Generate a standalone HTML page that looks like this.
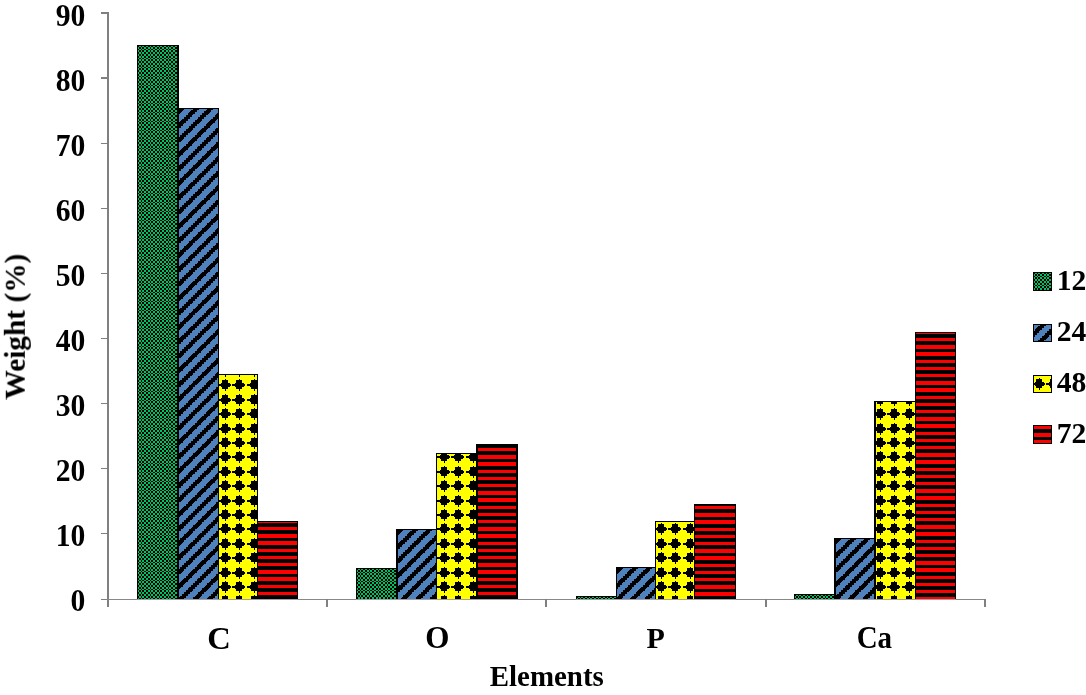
<!DOCTYPE html>
<html><head><meta charset="utf-8"><style>
html,body{margin:0;padding:0;background:#fff;}
body{width:1086px;height:695px;overflow:hidden;position:relative;}
svg{position:absolute;left:0;top:0;}
text{font-family:"Liberation Serif",serif;font-weight:bold;fill:#000;}
.tx{filter:grayscale(1);}
</style></head><body>
<svg width="1086" height="695" viewBox="0 0 1086 695">
<defs>
<pattern id="pg" patternUnits="userSpaceOnUse" width="18" height="18"><rect width="18" height="18" fill="#00c25c"/><g fill="#000"><rect x="11" y="0" width="2" height="2"/><rect x="14" y="0" width="2" height="2"/><rect x="7" y="0" width="2" height="2"/><rect x="4" y="0" width="1" height="2"/><rect x="0" y="0" width="2" height="2"/><rect x="13" y="2" width="1" height="2"/><rect x="2" y="2" width="2" height="2"/><rect x="5" y="2" width="2" height="2"/><rect x="16" y="2" width="2" height="2"/><rect x="9" y="2" width="2" height="2"/><rect x="11" y="4" width="2" height="1"/><rect x="14" y="4" width="2" height="1"/><rect x="7" y="4" width="2" height="1"/><rect x="4" y="4" width="1" height="1"/><rect x="0" y="4" width="2" height="1"/><rect x="13" y="5" width="1" height="2"/><rect x="2" y="5" width="2" height="2"/><rect x="5" y="5" width="2" height="2"/><rect x="16" y="5" width="2" height="2"/><rect x="9" y="5" width="2" height="2"/><rect x="11" y="7" width="2" height="2"/><rect x="14" y="7" width="2" height="2"/><rect x="7" y="7" width="2" height="2"/><rect x="4" y="7" width="1" height="2"/><rect x="0" y="7" width="2" height="2"/><rect x="13" y="9" width="1" height="2"/><rect x="2" y="9" width="2" height="2"/><rect x="5" y="9" width="2" height="2"/><rect x="16" y="9" width="2" height="2"/><rect x="9" y="9" width="2" height="2"/><rect x="11" y="11" width="2" height="2"/><rect x="14" y="11" width="2" height="2"/><rect x="7" y="11" width="2" height="2"/><rect x="4" y="11" width="1" height="2"/><rect x="0" y="11" width="2" height="2"/><rect x="13" y="13" width="1" height="1"/><rect x="2" y="13" width="2" height="1"/><rect x="5" y="13" width="2" height="1"/><rect x="16" y="13" width="2" height="1"/><rect x="9" y="13" width="2" height="1"/><rect x="11" y="14" width="2" height="2"/><rect x="14" y="14" width="2" height="2"/><rect x="7" y="14" width="2" height="2"/><rect x="4" y="14" width="1" height="2"/><rect x="0" y="14" width="2" height="2"/><rect x="13" y="16" width="1" height="2"/><rect x="2" y="16" width="2" height="2"/><rect x="5" y="16" width="2" height="2"/><rect x="16" y="16" width="2" height="2"/><rect x="9" y="16" width="2" height="2"/></g></pattern>
<pattern id="pb" patternUnits="userSpaceOnUse" width="72" height="72"><rect width="72" height="72" fill="#4f81bd"/><g fill="#000"><rect x="2" y="0" width="5" height="1"/><rect x="59" y="0" width="6" height="2"/><rect x="30" y="0" width="6" height="2"/><rect x="45" y="0" width="6" height="2"/><rect x="16" y="0" width="6" height="2"/><rect x="1" y="1" width="6" height="1"/><rect x="43" y="2" width="6" height="1"/><rect x="14" y="2" width="6" height="1"/><rect x="0" y="2" width="6" height="1"/><rect x="57" y="2" width="6" height="1"/><rect x="29" y="2" width="5" height="1"/><rect x="27" y="3" width="7" height="1"/><rect x="42" y="3" width="6" height="1"/><rect x="13" y="3" width="7" height="1"/><rect x="56" y="3" width="7" height="1"/><rect x="0" y="3" width="5" height="1"/><rect x="70" y="3" width="2" height="2"/><rect x="0" y="4" width="4" height="1"/><rect x="56" y="4" width="5" height="1"/><rect x="27" y="4" width="6" height="1"/><rect x="41" y="4" width="6" height="1"/><rect x="12" y="4" width="6" height="1"/><rect x="69" y="5" width="3" height="1"/><rect x="54" y="5" width="7" height="1"/><rect x="25" y="5" width="7" height="1"/><rect x="0" y="5" width="3" height="1"/><rect x="40" y="5" width="7" height="1"/><rect x="11" y="5" width="7" height="1"/><rect x="11" y="6" width="5" height="1"/><rect x="25" y="6" width="6" height="1"/><rect x="0" y="6" width="2" height="1"/><rect x="54" y="6" width="6" height="1"/><rect x="39" y="6" width="6" height="1"/><rect x="68" y="6" width="4" height="1"/><rect x="38" y="7" width="6" height="1"/><rect x="52" y="7" width="6" height="2"/><rect x="23" y="7" width="6" height="2"/><rect x="9" y="7" width="6" height="2"/><rect x="66" y="7" width="6" height="2"/><rect x="38" y="8" width="5" height="1"/><rect x="65" y="9" width="5" height="1"/><rect x="36" y="9" width="6" height="2"/><rect x="7" y="9" width="6" height="2"/><rect x="50" y="9" width="6" height="2"/><rect x="21" y="9" width="6" height="2"/><rect x="64" y="10" width="6" height="1"/><rect x="5" y="11" width="6" height="1"/><rect x="63" y="11" width="6" height="1"/><rect x="20" y="11" width="5" height="1"/><rect x="48" y="11" width="6" height="1"/><rect x="34" y="11" width="6" height="1"/><rect x="61" y="12" width="7" height="1"/><rect x="33" y="12" width="6" height="1"/><rect x="47" y="12" width="7" height="1"/><rect x="18" y="12" width="7" height="1"/><rect x="4" y="12" width="7" height="1"/><rect x="47" y="13" width="5" height="1"/><rect x="61" y="13" width="6" height="1"/><rect x="3" y="13" width="6" height="1"/><rect x="32" y="13" width="6" height="1"/><rect x="18" y="13" width="6" height="1"/><rect x="60" y="14" width="6" height="1"/><rect x="45" y="14" width="7" height="1"/><rect x="2" y="14" width="7" height="1"/><rect x="31" y="14" width="7" height="1"/><rect x="16" y="14" width="7" height="1"/><rect x="59" y="15" width="6" height="1"/><rect x="2" y="15" width="5" height="1"/><rect x="30" y="15" width="6" height="1"/><rect x="45" y="15" width="6" height="1"/><rect x="16" y="15" width="6" height="1"/><rect x="29" y="16" width="6" height="1"/><rect x="43" y="16" width="6" height="2"/><rect x="14" y="16" width="6" height="2"/><rect x="0" y="16" width="6" height="2"/><rect x="57" y="16" width="6" height="2"/><rect x="29" y="17" width="5" height="1"/><rect x="56" y="18" width="5" height="1"/><rect x="70" y="18" width="2" height="2"/><rect x="0" y="18" width="4" height="2"/><rect x="27" y="18" width="6" height="2"/><rect x="41" y="18" width="6" height="2"/><rect x="12" y="18" width="6" height="2"/><rect x="55" y="19" width="6" height="1"/><rect x="11" y="20" width="5" height="1"/><rect x="25" y="20" width="6" height="1"/><rect x="54" y="20" width="6" height="1"/><rect x="39" y="20" width="6" height="1"/><rect x="68" y="20" width="4" height="1"/><rect x="0" y="20" width="2" height="2"/><rect x="24" y="21" width="6" height="1"/><rect x="9" y="21" width="7" height="1"/><rect x="67" y="21" width="5" height="1"/><rect x="52" y="21" width="7" height="1"/><rect x="38" y="21" width="7" height="1"/><rect x="52" y="22" width="6" height="1"/><rect x="23" y="22" width="6" height="1"/><rect x="9" y="22" width="6" height="1"/><rect x="38" y="22" width="5" height="1"/><rect x="66" y="22" width="6" height="1"/><rect x="51" y="23" width="6" height="1"/><rect x="36" y="23" width="7" height="1"/><rect x="65" y="23" width="7" height="1"/><rect x="22" y="23" width="7" height="1"/><rect x="7" y="23" width="7" height="1"/><rect x="36" y="24" width="6" height="1"/><rect x="7" y="24" width="6" height="1"/><rect x="65" y="24" width="5" height="1"/><rect x="50" y="24" width="6" height="1"/><rect x="21" y="24" width="6" height="1"/><rect x="20" y="25" width="6" height="1"/><rect x="5" y="25" width="6" height="2"/><rect x="63" y="25" width="6" height="2"/><rect x="48" y="25" width="6" height="2"/><rect x="34" y="25" width="6" height="2"/><rect x="20" y="26" width="5" height="1"/><rect x="47" y="27" width="5" height="1"/><rect x="61" y="27" width="6" height="2"/><rect x="3" y="27" width="6" height="2"/><rect x="32" y="27" width="6" height="2"/><rect x="18" y="27" width="6" height="2"/><rect x="46" y="28" width="6" height="1"/><rect x="59" y="29" width="6" height="1"/><rect x="2" y="29" width="5" height="1"/><rect x="30" y="29" width="6" height="1"/><rect x="45" y="29" width="6" height="1"/><rect x="16" y="29" width="6" height="1"/><rect x="15" y="30" width="6" height="1"/><rect x="0" y="30" width="7" height="1"/><rect x="43" y="30" width="7" height="1"/><rect x="58" y="30" width="7" height="1"/><rect x="29" y="30" width="7" height="1"/><rect x="43" y="31" width="6" height="1"/><rect x="14" y="31" width="6" height="1"/><rect x="0" y="31" width="6" height="1"/><rect x="57" y="31" width="6" height="1"/><rect x="29" y="31" width="5" height="1"/><rect x="27" y="32" width="7" height="1"/><rect x="42" y="32" width="6" height="1"/><rect x="13" y="32" width="7" height="1"/><rect x="56" y="32" width="7" height="1"/><rect x="0" y="32" width="5" height="1"/><rect x="70" y="32" width="2" height="2"/><rect x="0" y="33" width="4" height="1"/><rect x="56" y="33" width="5" height="1"/><rect x="27" y="33" width="6" height="1"/><rect x="41" y="33" width="6" height="1"/><rect x="12" y="33" width="6" height="1"/><rect x="11" y="34" width="6" height="1"/><rect x="25" y="34" width="6" height="2"/><rect x="0" y="34" width="2" height="2"/><rect x="54" y="34" width="6" height="2"/><rect x="39" y="34" width="6" height="2"/><rect x="68" y="34" width="4" height="2"/><rect x="11" y="35" width="5" height="1"/><rect x="38" y="36" width="5" height="1"/><rect x="52" y="36" width="6" height="2"/><rect x="23" y="36" width="6" height="2"/><rect x="9" y="36" width="6" height="2"/><rect x="66" y="36" width="6" height="2"/><rect x="37" y="37" width="6" height="1"/><rect x="36" y="38" width="6" height="1"/><rect x="7" y="38" width="6" height="1"/><rect x="65" y="38" width="5" height="1"/><rect x="50" y="38" width="6" height="1"/><rect x="21" y="38" width="6" height="1"/><rect x="6" y="39" width="6" height="1"/><rect x="20" y="39" width="7" height="1"/><rect x="63" y="39" width="7" height="1"/><rect x="34" y="39" width="7" height="1"/><rect x="49" y="39" width="7" height="1"/><rect x="5" y="40" width="6" height="1"/><rect x="63" y="40" width="6" height="1"/><rect x="20" y="40" width="5" height="1"/><rect x="48" y="40" width="6" height="1"/><rect x="34" y="40" width="6" height="1"/><rect x="61" y="41" width="7" height="1"/><rect x="33" y="41" width="6" height="1"/><rect x="47" y="41" width="7" height="1"/><rect x="18" y="41" width="7" height="1"/><rect x="4" y="41" width="7" height="1"/><rect x="47" y="42" width="5" height="1"/><rect x="61" y="42" width="6" height="1"/><rect x="3" y="42" width="6" height="1"/><rect x="32" y="42" width="6" height="1"/><rect x="18" y="42" width="6" height="1"/><rect x="2" y="43" width="6" height="1"/><rect x="59" y="43" width="6" height="2"/><rect x="30" y="43" width="6" height="2"/><rect x="45" y="43" width="6" height="2"/><rect x="16" y="43" width="6" height="2"/><rect x="2" y="44" width="5" height="1"/><rect x="29" y="45" width="5" height="1"/><rect x="43" y="45" width="6" height="2"/><rect x="14" y="45" width="6" height="2"/><rect x="0" y="45" width="6" height="2"/><rect x="57" y="45" width="6" height="2"/><rect x="28" y="46" width="6" height="1"/><rect x="70" y="47" width="2" height="1"/><rect x="0" y="47" width="4" height="1"/><rect x="56" y="47" width="5" height="1"/><rect x="27" y="47" width="6" height="1"/><rect x="41" y="47" width="6" height="1"/><rect x="12" y="47" width="6" height="1"/><rect x="69" y="48" width="3" height="1"/><rect x="54" y="48" width="7" height="1"/><rect x="25" y="48" width="7" height="1"/><rect x="0" y="48" width="3" height="1"/><rect x="40" y="48" width="7" height="1"/><rect x="11" y="48" width="7" height="1"/><rect x="11" y="49" width="5" height="1"/><rect x="25" y="49" width="6" height="1"/><rect x="54" y="49" width="6" height="1"/><rect x="39" y="49" width="6" height="1"/><rect x="68" y="49" width="4" height="1"/><rect x="0" y="49" width="2" height="2"/><rect x="24" y="50" width="6" height="1"/><rect x="9" y="50" width="7" height="1"/><rect x="67" y="50" width="5" height="1"/><rect x="52" y="50" width="7" height="1"/><rect x="38" y="50" width="7" height="1"/><rect x="52" y="51" width="6" height="1"/><rect x="23" y="51" width="6" height="1"/><rect x="9" y="51" width="6" height="1"/><rect x="38" y="51" width="5" height="1"/><rect x="66" y="51" width="6" height="1"/><rect x="65" y="52" width="6" height="1"/><rect x="36" y="52" width="6" height="2"/><rect x="7" y="52" width="6" height="2"/><rect x="50" y="52" width="6" height="2"/><rect x="21" y="52" width="6" height="2"/><rect x="65" y="53" width="5" height="1"/><rect x="20" y="54" width="5" height="1"/><rect x="5" y="54" width="6" height="2"/><rect x="63" y="54" width="6" height="2"/><rect x="48" y="54" width="6" height="2"/><rect x="34" y="54" width="6" height="2"/><rect x="19" y="55" width="6" height="1"/><rect x="47" y="56" width="5" height="1"/><rect x="61" y="56" width="6" height="1"/><rect x="3" y="56" width="6" height="1"/><rect x="32" y="56" width="6" height="1"/><rect x="18" y="56" width="6" height="1"/><rect x="60" y="57" width="6" height="1"/><rect x="45" y="57" width="7" height="1"/><rect x="2" y="57" width="7" height="1"/><rect x="31" y="57" width="7" height="1"/><rect x="16" y="57" width="7" height="1"/><rect x="59" y="58" width="6" height="1"/><rect x="2" y="58" width="5" height="1"/><rect x="30" y="58" width="6" height="1"/><rect x="45" y="58" width="6" height="1"/><rect x="16" y="58" width="6" height="1"/><rect x="15" y="59" width="6" height="1"/><rect x="0" y="59" width="7" height="1"/><rect x="43" y="59" width="7" height="1"/><rect x="58" y="59" width="7" height="1"/><rect x="29" y="59" width="7" height="1"/><rect x="43" y="60" width="6" height="1"/><rect x="14" y="60" width="6" height="1"/><rect x="0" y="60" width="6" height="1"/><rect x="57" y="60" width="6" height="1"/><rect x="29" y="60" width="5" height="1"/><rect x="56" y="61" width="6" height="1"/><rect x="70" y="61" width="2" height="2"/><rect x="0" y="61" width="4" height="2"/><rect x="27" y="61" width="6" height="2"/><rect x="41" y="61" width="6" height="2"/><rect x="12" y="61" width="6" height="2"/><rect x="56" y="62" width="5" height="1"/><rect x="11" y="63" width="5" height="1"/><rect x="25" y="63" width="6" height="2"/><rect x="0" y="63" width="2" height="2"/><rect x="54" y="63" width="6" height="2"/><rect x="39" y="63" width="6" height="2"/><rect x="68" y="63" width="4" height="2"/><rect x="10" y="64" width="6" height="1"/><rect x="52" y="65" width="6" height="1"/><rect x="23" y="65" width="6" height="1"/><rect x="9" y="65" width="6" height="1"/><rect x="38" y="65" width="5" height="1"/><rect x="66" y="65" width="6" height="1"/><rect x="51" y="66" width="6" height="1"/><rect x="36" y="66" width="7" height="1"/><rect x="65" y="66" width="7" height="1"/><rect x="22" y="66" width="7" height="1"/><rect x="7" y="66" width="7" height="1"/><rect x="36" y="67" width="6" height="1"/><rect x="7" y="67" width="6" height="1"/><rect x="65" y="67" width="5" height="1"/><rect x="50" y="67" width="6" height="1"/><rect x="21" y="67" width="6" height="1"/><rect x="6" y="68" width="6" height="1"/><rect x="20" y="68" width="7" height="1"/><rect x="63" y="68" width="7" height="1"/><rect x="34" y="68" width="7" height="1"/><rect x="49" y="68" width="7" height="1"/><rect x="5" y="69" width="6" height="1"/><rect x="63" y="69" width="6" height="1"/><rect x="20" y="69" width="5" height="1"/><rect x="48" y="69" width="6" height="1"/><rect x="34" y="69" width="6" height="1"/><rect x="47" y="70" width="6" height="1"/><rect x="61" y="70" width="6" height="2"/><rect x="3" y="70" width="6" height="2"/><rect x="32" y="70" width="6" height="2"/><rect x="18" y="70" width="6" height="2"/><rect x="47" y="71" width="5" height="1"/></g></pattern>
<pattern id="pb2" patternUnits="userSpaceOnUse" width="72" height="72"><rect width="72" height="72" fill="#4f81bd"/><g fill="#000"><rect x="65" y="0" width="5" height="1"/><rect x="36" y="0" width="6" height="2"/><rect x="7" y="0" width="6" height="2"/><rect x="50" y="0" width="6" height="2"/><rect x="21" y="0" width="6" height="2"/><rect x="64" y="1" width="6" height="1"/><rect x="5" y="2" width="6" height="1"/><rect x="63" y="2" width="6" height="1"/><rect x="20" y="2" width="5" height="1"/><rect x="48" y="2" width="6" height="1"/><rect x="34" y="2" width="6" height="1"/><rect x="61" y="3" width="7" height="1"/><rect x="33" y="3" width="6" height="1"/><rect x="47" y="3" width="7" height="1"/><rect x="18" y="3" width="7" height="1"/><rect x="4" y="3" width="7" height="1"/><rect x="47" y="4" width="5" height="1"/><rect x="61" y="4" width="6" height="1"/><rect x="3" y="4" width="6" height="1"/><rect x="32" y="4" width="6" height="1"/><rect x="18" y="4" width="6" height="1"/><rect x="60" y="5" width="6" height="1"/><rect x="45" y="5" width="7" height="1"/><rect x="2" y="5" width="7" height="1"/><rect x="31" y="5" width="7" height="1"/><rect x="16" y="5" width="7" height="1"/><rect x="59" y="6" width="6" height="1"/><rect x="2" y="6" width="5" height="1"/><rect x="30" y="6" width="6" height="1"/><rect x="45" y="6" width="6" height="1"/><rect x="16" y="6" width="6" height="1"/><rect x="29" y="7" width="6" height="1"/><rect x="43" y="7" width="6" height="2"/><rect x="14" y="7" width="6" height="2"/><rect x="0" y="7" width="6" height="2"/><rect x="57" y="7" width="6" height="2"/><rect x="29" y="8" width="5" height="1"/><rect x="56" y="9" width="5" height="1"/><rect x="70" y="9" width="2" height="2"/><rect x="0" y="9" width="4" height="2"/><rect x="27" y="9" width="6" height="2"/><rect x="41" y="9" width="6" height="2"/><rect x="12" y="9" width="6" height="2"/><rect x="55" y="10" width="6" height="1"/><rect x="11" y="11" width="5" height="1"/><rect x="25" y="11" width="6" height="1"/><rect x="54" y="11" width="6" height="1"/><rect x="39" y="11" width="6" height="1"/><rect x="68" y="11" width="4" height="1"/><rect x="0" y="11" width="2" height="2"/><rect x="24" y="12" width="6" height="1"/><rect x="9" y="12" width="7" height="1"/><rect x="67" y="12" width="5" height="1"/><rect x="52" y="12" width="7" height="1"/><rect x="38" y="12" width="7" height="1"/><rect x="52" y="13" width="6" height="1"/><rect x="23" y="13" width="6" height="1"/><rect x="9" y="13" width="6" height="1"/><rect x="38" y="13" width="5" height="1"/><rect x="66" y="13" width="6" height="1"/><rect x="51" y="14" width="6" height="1"/><rect x="36" y="14" width="7" height="1"/><rect x="65" y="14" width="7" height="1"/><rect x="22" y="14" width="7" height="1"/><rect x="7" y="14" width="7" height="1"/><rect x="36" y="15" width="6" height="1"/><rect x="7" y="15" width="6" height="1"/><rect x="65" y="15" width="5" height="1"/><rect x="50" y="15" width="6" height="1"/><rect x="21" y="15" width="6" height="1"/><rect x="20" y="16" width="6" height="1"/><rect x="5" y="16" width="6" height="2"/><rect x="63" y="16" width="6" height="2"/><rect x="48" y="16" width="6" height="2"/><rect x="34" y="16" width="6" height="2"/><rect x="20" y="17" width="5" height="1"/><rect x="47" y="18" width="5" height="1"/><rect x="61" y="18" width="6" height="2"/><rect x="3" y="18" width="6" height="2"/><rect x="32" y="18" width="6" height="2"/><rect x="18" y="18" width="6" height="2"/><rect x="46" y="19" width="6" height="1"/><rect x="59" y="20" width="6" height="1"/><rect x="2" y="20" width="5" height="1"/><rect x="30" y="20" width="6" height="1"/><rect x="45" y="20" width="6" height="1"/><rect x="16" y="20" width="6" height="1"/><rect x="15" y="21" width="6" height="1"/><rect x="0" y="21" width="7" height="1"/><rect x="43" y="21" width="7" height="1"/><rect x="58" y="21" width="7" height="1"/><rect x="29" y="21" width="7" height="1"/><rect x="43" y="22" width="6" height="1"/><rect x="14" y="22" width="6" height="1"/><rect x="0" y="22" width="6" height="1"/><rect x="57" y="22" width="6" height="1"/><rect x="29" y="22" width="5" height="1"/><rect x="27" y="23" width="7" height="1"/><rect x="42" y="23" width="6" height="1"/><rect x="13" y="23" width="7" height="1"/><rect x="56" y="23" width="7" height="1"/><rect x="0" y="23" width="5" height="1"/><rect x="70" y="23" width="2" height="2"/><rect x="0" y="24" width="4" height="1"/><rect x="56" y="24" width="5" height="1"/><rect x="27" y="24" width="6" height="1"/><rect x="41" y="24" width="6" height="1"/><rect x="12" y="24" width="6" height="1"/><rect x="11" y="25" width="6" height="1"/><rect x="25" y="25" width="6" height="2"/><rect x="0" y="25" width="2" height="2"/><rect x="54" y="25" width="6" height="2"/><rect x="39" y="25" width="6" height="2"/><rect x="68" y="25" width="4" height="2"/><rect x="11" y="26" width="5" height="1"/><rect x="38" y="27" width="5" height="1"/><rect x="52" y="27" width="6" height="2"/><rect x="23" y="27" width="6" height="2"/><rect x="9" y="27" width="6" height="2"/><rect x="66" y="27" width="6" height="2"/><rect x="37" y="28" width="6" height="1"/><rect x="36" y="29" width="6" height="1"/><rect x="7" y="29" width="6" height="1"/><rect x="65" y="29" width="5" height="1"/><rect x="50" y="29" width="6" height="1"/><rect x="21" y="29" width="6" height="1"/><rect x="6" y="30" width="6" height="1"/><rect x="20" y="30" width="7" height="1"/><rect x="63" y="30" width="7" height="1"/><rect x="34" y="30" width="7" height="1"/><rect x="49" y="30" width="7" height="1"/><rect x="5" y="31" width="6" height="1"/><rect x="63" y="31" width="6" height="1"/><rect x="20" y="31" width="5" height="1"/><rect x="48" y="31" width="6" height="1"/><rect x="34" y="31" width="6" height="1"/><rect x="61" y="32" width="7" height="1"/><rect x="33" y="32" width="6" height="1"/><rect x="47" y="32" width="7" height="1"/><rect x="18" y="32" width="7" height="1"/><rect x="4" y="32" width="7" height="1"/><rect x="47" y="33" width="5" height="1"/><rect x="61" y="33" width="6" height="1"/><rect x="3" y="33" width="6" height="1"/><rect x="32" y="33" width="6" height="1"/><rect x="18" y="33" width="6" height="1"/><rect x="2" y="34" width="6" height="1"/><rect x="59" y="34" width="6" height="2"/><rect x="30" y="34" width="6" height="2"/><rect x="45" y="34" width="6" height="2"/><rect x="16" y="34" width="6" height="2"/><rect x="2" y="35" width="5" height="1"/><rect x="29" y="36" width="5" height="1"/><rect x="43" y="36" width="6" height="2"/><rect x="14" y="36" width="6" height="2"/><rect x="0" y="36" width="6" height="2"/><rect x="57" y="36" width="6" height="2"/><rect x="28" y="37" width="6" height="1"/><rect x="70" y="38" width="2" height="1"/><rect x="0" y="38" width="4" height="1"/><rect x="56" y="38" width="5" height="1"/><rect x="27" y="38" width="6" height="1"/><rect x="41" y="38" width="6" height="1"/><rect x="12" y="38" width="6" height="1"/><rect x="69" y="39" width="3" height="1"/><rect x="54" y="39" width="7" height="1"/><rect x="25" y="39" width="7" height="1"/><rect x="0" y="39" width="3" height="1"/><rect x="40" y="39" width="7" height="1"/><rect x="11" y="39" width="7" height="1"/><rect x="11" y="40" width="5" height="1"/><rect x="25" y="40" width="6" height="1"/><rect x="54" y="40" width="6" height="1"/><rect x="39" y="40" width="6" height="1"/><rect x="68" y="40" width="4" height="1"/><rect x="0" y="40" width="2" height="2"/><rect x="24" y="41" width="6" height="1"/><rect x="9" y="41" width="7" height="1"/><rect x="67" y="41" width="5" height="1"/><rect x="52" y="41" width="7" height="1"/><rect x="38" y="41" width="7" height="1"/><rect x="52" y="42" width="6" height="1"/><rect x="23" y="42" width="6" height="1"/><rect x="9" y="42" width="6" height="1"/><rect x="38" y="42" width="5" height="1"/><rect x="66" y="42" width="6" height="1"/><rect x="65" y="43" width="6" height="1"/><rect x="36" y="43" width="6" height="2"/><rect x="7" y="43" width="6" height="2"/><rect x="50" y="43" width="6" height="2"/><rect x="21" y="43" width="6" height="2"/><rect x="65" y="44" width="5" height="1"/><rect x="20" y="45" width="5" height="1"/><rect x="5" y="45" width="6" height="2"/><rect x="63" y="45" width="6" height="2"/><rect x="48" y="45" width="6" height="2"/><rect x="34" y="45" width="6" height="2"/><rect x="19" y="46" width="6" height="1"/><rect x="47" y="47" width="5" height="1"/><rect x="61" y="47" width="6" height="1"/><rect x="3" y="47" width="6" height="1"/><rect x="32" y="47" width="6" height="1"/><rect x="18" y="47" width="6" height="1"/><rect x="60" y="48" width="6" height="1"/><rect x="45" y="48" width="7" height="1"/><rect x="2" y="48" width="7" height="1"/><rect x="31" y="48" width="7" height="1"/><rect x="16" y="48" width="7" height="1"/><rect x="59" y="49" width="6" height="1"/><rect x="2" y="49" width="5" height="1"/><rect x="30" y="49" width="6" height="1"/><rect x="45" y="49" width="6" height="1"/><rect x="16" y="49" width="6" height="1"/><rect x="15" y="50" width="6" height="1"/><rect x="0" y="50" width="7" height="1"/><rect x="43" y="50" width="7" height="1"/><rect x="58" y="50" width="7" height="1"/><rect x="29" y="50" width="7" height="1"/><rect x="43" y="51" width="6" height="1"/><rect x="14" y="51" width="6" height="1"/><rect x="0" y="51" width="6" height="1"/><rect x="57" y="51" width="6" height="1"/><rect x="29" y="51" width="5" height="1"/><rect x="56" y="52" width="6" height="1"/><rect x="70" y="52" width="2" height="2"/><rect x="0" y="52" width="4" height="2"/><rect x="27" y="52" width="6" height="2"/><rect x="41" y="52" width="6" height="2"/><rect x="12" y="52" width="6" height="2"/><rect x="56" y="53" width="5" height="1"/><rect x="11" y="54" width="5" height="1"/><rect x="25" y="54" width="6" height="2"/><rect x="0" y="54" width="2" height="2"/><rect x="54" y="54" width="6" height="2"/><rect x="39" y="54" width="6" height="2"/><rect x="68" y="54" width="4" height="2"/><rect x="10" y="55" width="6" height="1"/><rect x="52" y="56" width="6" height="1"/><rect x="23" y="56" width="6" height="1"/><rect x="9" y="56" width="6" height="1"/><rect x="38" y="56" width="5" height="1"/><rect x="66" y="56" width="6" height="1"/><rect x="51" y="57" width="6" height="1"/><rect x="36" y="57" width="7" height="1"/><rect x="65" y="57" width="7" height="1"/><rect x="22" y="57" width="7" height="1"/><rect x="7" y="57" width="7" height="1"/><rect x="36" y="58" width="6" height="1"/><rect x="7" y="58" width="6" height="1"/><rect x="65" y="58" width="5" height="1"/><rect x="50" y="58" width="6" height="1"/><rect x="21" y="58" width="6" height="1"/><rect x="6" y="59" width="6" height="1"/><rect x="20" y="59" width="7" height="1"/><rect x="63" y="59" width="7" height="1"/><rect x="34" y="59" width="7" height="1"/><rect x="49" y="59" width="7" height="1"/><rect x="5" y="60" width="6" height="1"/><rect x="63" y="60" width="6" height="1"/><rect x="20" y="60" width="5" height="1"/><rect x="48" y="60" width="6" height="1"/><rect x="34" y="60" width="6" height="1"/><rect x="47" y="61" width="6" height="1"/><rect x="61" y="61" width="6" height="2"/><rect x="3" y="61" width="6" height="2"/><rect x="32" y="61" width="6" height="2"/><rect x="18" y="61" width="6" height="2"/><rect x="47" y="62" width="5" height="1"/><rect x="2" y="63" width="5" height="1"/><rect x="59" y="63" width="6" height="2"/><rect x="30" y="63" width="6" height="2"/><rect x="45" y="63" width="6" height="2"/><rect x="16" y="63" width="6" height="2"/><rect x="1" y="64" width="6" height="1"/><rect x="43" y="65" width="6" height="1"/><rect x="14" y="65" width="6" height="1"/><rect x="0" y="65" width="6" height="1"/><rect x="57" y="65" width="6" height="1"/><rect x="29" y="65" width="5" height="1"/><rect x="27" y="66" width="7" height="1"/><rect x="42" y="66" width="6" height="1"/><rect x="13" y="66" width="7" height="1"/><rect x="56" y="66" width="7" height="1"/><rect x="0" y="66" width="5" height="1"/><rect x="70" y="66" width="2" height="2"/><rect x="0" y="67" width="4" height="1"/><rect x="56" y="67" width="5" height="1"/><rect x="27" y="67" width="6" height="1"/><rect x="41" y="67" width="6" height="1"/><rect x="12" y="67" width="6" height="1"/><rect x="69" y="68" width="3" height="1"/><rect x="54" y="68" width="7" height="1"/><rect x="25" y="68" width="7" height="1"/><rect x="0" y="68" width="3" height="1"/><rect x="40" y="68" width="7" height="1"/><rect x="11" y="68" width="7" height="1"/><rect x="11" y="69" width="5" height="1"/><rect x="25" y="69" width="6" height="1"/><rect x="0" y="69" width="2" height="1"/><rect x="54" y="69" width="6" height="1"/><rect x="39" y="69" width="6" height="1"/><rect x="68" y="69" width="4" height="1"/><rect x="38" y="70" width="6" height="1"/><rect x="52" y="70" width="6" height="2"/><rect x="23" y="70" width="6" height="2"/><rect x="9" y="70" width="6" height="2"/><rect x="66" y="70" width="6" height="2"/><rect x="38" y="71" width="5" height="1"/></g></pattern>
<pattern id="py" patternUnits="userSpaceOnUse" width="72" height="72"><rect width="72" height="72" fill="#ffff00"/><g fill="#000"><rect x="65" y="0" width="7" height="1"/><rect x="36" y="0" width="13" height="1"/><rect x="7" y="0" width="13" height="1"/><rect x="0" y="0" width="6" height="1"/><rect x="22" y="0" width="13" height="1"/><rect x="51" y="0" width="13" height="1"/><rect x="54" y="1" width="9" height="1"/><rect x="25" y="1" width="9" height="1"/><rect x="10" y="1" width="9" height="1"/><rect x="0" y="1" width="5" height="1"/><rect x="39" y="1" width="9" height="1"/><rect x="68" y="1" width="4" height="1"/><rect x="69" y="2" width="3" height="2"/><rect x="40" y="2" width="6" height="2"/><rect x="0" y="2" width="3" height="2"/><rect x="26" y="2" width="6" height="2"/><rect x="55" y="2" width="6" height="2"/><rect x="11" y="2" width="6" height="2"/><rect x="0" y="4" width="1" height="2"/><rect x="58" y="4" width="1" height="2"/><rect x="43" y="4" width="1" height="2"/><rect x="14" y="4" width="1" height="2"/><rect x="29" y="4" width="1" height="2"/><rect x="0" y="8" width="1" height="1"/><rect x="58" y="8" width="1" height="1"/><rect x="43" y="8" width="1" height="1"/><rect x="14" y="8" width="1" height="1"/><rect x="29" y="8" width="1" height="1"/><rect x="69" y="9" width="3" height="3"/><rect x="40" y="9" width="6" height="3"/><rect x="0" y="9" width="3" height="3"/><rect x="26" y="9" width="6" height="3"/><rect x="55" y="9" width="6" height="3"/><rect x="11" y="9" width="6" height="3"/><rect x="54" y="12" width="9" height="1"/><rect x="25" y="12" width="9" height="1"/><rect x="10" y="12" width="9" height="1"/><rect x="0" y="12" width="5" height="1"/><rect x="39" y="12" width="9" height="1"/><rect x="68" y="12" width="4" height="1"/><rect x="65" y="13" width="7" height="2"/><rect x="36" y="13" width="13" height="2"/><rect x="7" y="13" width="13" height="2"/><rect x="0" y="13" width="6" height="2"/><rect x="22" y="13" width="13" height="2"/><rect x="51" y="13" width="13" height="2"/><rect x="54" y="15" width="9" height="1"/><rect x="25" y="15" width="9" height="1"/><rect x="10" y="15" width="9" height="1"/><rect x="0" y="15" width="5" height="1"/><rect x="39" y="15" width="9" height="1"/><rect x="68" y="15" width="4" height="1"/><rect x="69" y="16" width="3" height="2"/><rect x="40" y="16" width="6" height="2"/><rect x="0" y="16" width="3" height="2"/><rect x="26" y="16" width="6" height="2"/><rect x="55" y="16" width="6" height="2"/><rect x="11" y="16" width="6" height="2"/><rect x="0" y="18" width="1" height="2"/><rect x="58" y="18" width="1" height="2"/><rect x="43" y="18" width="1" height="2"/><rect x="14" y="18" width="1" height="2"/><rect x="29" y="18" width="1" height="2"/><rect x="0" y="23" width="1" height="1"/><rect x="58" y="23" width="1" height="1"/><rect x="43" y="23" width="1" height="1"/><rect x="14" y="23" width="1" height="1"/><rect x="29" y="23" width="1" height="1"/><rect x="69" y="24" width="3" height="3"/><rect x="40" y="24" width="6" height="3"/><rect x="0" y="24" width="3" height="3"/><rect x="26" y="24" width="6" height="3"/><rect x="55" y="24" width="6" height="3"/><rect x="11" y="24" width="6" height="3"/><rect x="54" y="27" width="9" height="1"/><rect x="25" y="27" width="9" height="1"/><rect x="10" y="27" width="9" height="1"/><rect x="0" y="27" width="5" height="1"/><rect x="39" y="27" width="9" height="1"/><rect x="68" y="27" width="4" height="1"/><rect x="65" y="28" width="7" height="2"/><rect x="36" y="28" width="13" height="2"/><rect x="7" y="28" width="13" height="2"/><rect x="0" y="28" width="6" height="2"/><rect x="22" y="28" width="13" height="2"/><rect x="51" y="28" width="13" height="2"/><rect x="54" y="30" width="9" height="1"/><rect x="25" y="30" width="9" height="1"/><rect x="10" y="30" width="9" height="1"/><rect x="0" y="30" width="5" height="1"/><rect x="39" y="30" width="9" height="1"/><rect x="68" y="30" width="4" height="1"/><rect x="69" y="31" width="3" height="2"/><rect x="40" y="31" width="6" height="2"/><rect x="0" y="31" width="3" height="2"/><rect x="26" y="31" width="6" height="2"/><rect x="55" y="31" width="6" height="2"/><rect x="11" y="31" width="6" height="2"/><rect x="0" y="33" width="1" height="2"/><rect x="58" y="33" width="1" height="2"/><rect x="43" y="33" width="1" height="2"/><rect x="14" y="33" width="1" height="2"/><rect x="29" y="33" width="1" height="2"/><rect x="0" y="37" width="1" height="1"/><rect x="58" y="37" width="1" height="1"/><rect x="43" y="37" width="1" height="1"/><rect x="14" y="37" width="1" height="1"/><rect x="29" y="37" width="1" height="1"/><rect x="69" y="38" width="3" height="3"/><rect x="40" y="38" width="6" height="3"/><rect x="0" y="38" width="3" height="3"/><rect x="26" y="38" width="6" height="3"/><rect x="55" y="38" width="6" height="3"/><rect x="11" y="38" width="6" height="3"/><rect x="54" y="41" width="9" height="1"/><rect x="25" y="41" width="9" height="1"/><rect x="10" y="41" width="9" height="1"/><rect x="0" y="41" width="5" height="1"/><rect x="39" y="41" width="9" height="1"/><rect x="68" y="41" width="4" height="1"/><rect x="65" y="42" width="7" height="2"/><rect x="36" y="42" width="13" height="2"/><rect x="7" y="42" width="13" height="2"/><rect x="0" y="42" width="6" height="2"/><rect x="22" y="42" width="13" height="2"/><rect x="51" y="42" width="13" height="2"/><rect x="54" y="44" width="9" height="1"/><rect x="25" y="44" width="9" height="1"/><rect x="10" y="44" width="9" height="1"/><rect x="0" y="44" width="5" height="1"/><rect x="39" y="44" width="9" height="1"/><rect x="68" y="44" width="4" height="1"/><rect x="69" y="45" width="3" height="2"/><rect x="40" y="45" width="6" height="2"/><rect x="0" y="45" width="3" height="2"/><rect x="26" y="45" width="6" height="2"/><rect x="55" y="45" width="6" height="2"/><rect x="11" y="45" width="6" height="2"/><rect x="0" y="47" width="1" height="2"/><rect x="58" y="47" width="1" height="2"/><rect x="43" y="47" width="1" height="2"/><rect x="14" y="47" width="1" height="2"/><rect x="29" y="47" width="1" height="2"/><rect x="0" y="52" width="1" height="1"/><rect x="58" y="52" width="1" height="1"/><rect x="43" y="52" width="1" height="1"/><rect x="14" y="52" width="1" height="1"/><rect x="29" y="52" width="1" height="1"/><rect x="69" y="53" width="3" height="3"/><rect x="40" y="53" width="6" height="3"/><rect x="0" y="53" width="3" height="3"/><rect x="26" y="53" width="6" height="3"/><rect x="55" y="53" width="6" height="3"/><rect x="11" y="53" width="6" height="3"/><rect x="54" y="56" width="9" height="1"/><rect x="25" y="56" width="9" height="1"/><rect x="10" y="56" width="9" height="1"/><rect x="0" y="56" width="5" height="1"/><rect x="39" y="56" width="9" height="1"/><rect x="68" y="56" width="4" height="1"/><rect x="65" y="57" width="7" height="2"/><rect x="36" y="57" width="13" height="2"/><rect x="7" y="57" width="13" height="2"/><rect x="0" y="57" width="6" height="2"/><rect x="22" y="57" width="13" height="2"/><rect x="51" y="57" width="13" height="2"/><rect x="54" y="59" width="9" height="1"/><rect x="25" y="59" width="9" height="1"/><rect x="10" y="59" width="9" height="1"/><rect x="0" y="59" width="5" height="1"/><rect x="39" y="59" width="9" height="1"/><rect x="68" y="59" width="4" height="1"/><rect x="69" y="60" width="3" height="2"/><rect x="40" y="60" width="6" height="2"/><rect x="0" y="60" width="3" height="2"/><rect x="26" y="60" width="6" height="2"/><rect x="55" y="60" width="6" height="2"/><rect x="11" y="60" width="6" height="2"/><rect x="0" y="62" width="1" height="2"/><rect x="58" y="62" width="1" height="2"/><rect x="43" y="62" width="1" height="2"/><rect x="14" y="62" width="1" height="2"/><rect x="29" y="62" width="1" height="2"/><rect x="0" y="66" width="1" height="1"/><rect x="58" y="66" width="1" height="1"/><rect x="43" y="66" width="1" height="1"/><rect x="14" y="66" width="1" height="1"/><rect x="29" y="66" width="1" height="1"/><rect x="69" y="67" width="3" height="3"/><rect x="40" y="67" width="6" height="3"/><rect x="0" y="67" width="3" height="3"/><rect x="26" y="67" width="6" height="3"/><rect x="55" y="67" width="6" height="3"/><rect x="11" y="67" width="6" height="3"/><rect x="54" y="70" width="9" height="1"/><rect x="25" y="70" width="9" height="1"/><rect x="10" y="70" width="9" height="1"/><rect x="0" y="70" width="5" height="1"/><rect x="39" y="70" width="9" height="1"/><rect x="68" y="70" width="4" height="1"/><rect x="65" y="71" width="7" height="1"/><rect x="36" y="71" width="13" height="1"/><rect x="7" y="71" width="13" height="1"/><rect x="0" y="71" width="6" height="1"/><rect x="22" y="71" width="13" height="1"/><rect x="51" y="71" width="13" height="1"/></g></pattern>
<pattern id="pr" patternUnits="userSpaceOnUse" width="2" height="36"><rect width="2" height="36" fill="#ff0000"/><g fill="#000"><rect x="0" y="3" width="2" height="4"/><rect x="0" y="11" width="2" height="3"/><rect x="0" y="18" width="2" height="4"/><rect x="0" y="25" width="2" height="4"/><rect x="0" y="32" width="2" height="4"/></g></pattern>
</defs>
<g shape-rendering="crispEdges">
<g fill="#808080">
<rect x="107" y="12" width="2" height="595"/>
<rect x="101" y="599" width="884" height="1" fill="#888"/>
<rect x="101" y="599" width="6" height="1"/>
<rect x="101" y="533" width="6" height="1"/>
<rect x="101" y="468" width="6" height="1"/>
<rect x="101" y="403" width="6" height="1"/>
<rect x="101" y="338" width="6" height="1"/>
<rect x="101" y="273" width="6" height="1"/>
<rect x="101" y="208" width="6" height="1"/>
<rect x="101" y="143" width="6" height="1"/>
<rect x="101" y="77" width="6" height="2"/>
<rect x="101" y="12" width="6" height="2"/>
<rect x="326" y="599" width="2" height="8"/>
<rect x="545" y="599" width="2" height="8"/>
<rect x="765" y="599" width="2" height="8"/>
<rect x="984" y="599" width="2" height="8"/>
</g>
<rect x="137" y="599" width="161" height="1" fill="#a49ea4"/>
<rect x="356" y="599" width="162" height="1" fill="#a49ea4"/>
<rect x="576" y="599" width="160" height="1" fill="#a49ea4"/>
<rect x="794" y="599" width="162" height="1" fill="#a49ea4"/>
<rect x="1" y="1" width="39" height="553" fill="url(#pg)" transform="translate(137,45)"/>
<path d="M137 45h42v1h-42zM137 45h1v554h-1zM177 45h2v554h-2z" fill="#000"/>
<rect x="2" y="1" width="39" height="490" fill="url(#pb)" transform="translate(177,108)"/>
<path d="M177 108h42v1h-42zM177 108h2v491h-2zM218 108h1v491h-1z" fill="#000"/>
<rect x="-6" y="-212" width="38" height="224" fill="url(#py)" transform="translate(225,587)"/>
<path d="M218 374h40v1h-40zM218 374h1v225h-1zM257 374h1v225h-1z" fill="#000"/>
<rect x="1" y="-5" width="39" height="77" fill="url(#pr)" transform="translate(257,527)"/>
<path d="M257 521h41v1h-41zM257 521h1v78h-1zM297 521h1v78h-1z" fill="#000"/>
<rect x="1" y="1" width="39" height="30" fill="url(#pg)" transform="translate(356,568)"/>
<path d="M356 568h42v1h-42zM356 568h1v31h-1zM396 568h2v31h-2z" fill="#000"/>
<rect x="2" y="1" width="38" height="69" fill="url(#pb)" transform="translate(396,529)"/>
<path d="M396 529h41v1h-41zM396 529h2v70h-2zM436 529h1v70h-1z" fill="#000"/>
<rect x="-7" y="-133" width="39" height="145" fill="url(#py)" transform="translate(444,587)"/>
<path d="M436 453h42v1h-42zM436 453h1v146h-1zM476 453h2v146h-2z" fill="#000"/>
<rect x="2" y="-3" width="38" height="154" fill="url(#pr)" transform="translate(476,448)"/>
<path d="M476 444h42v1h-42zM476 444h2v155h-2zM516 444h2v155h-2z" fill="#000"/>
<rect x="1" y="1" width="39" height="2" fill="url(#pg)" transform="translate(576,596)"/>
<path d="M576 596h41v1h-41zM576 596h1v3h-1zM616 596h1v3h-1z" fill="#000"/>
<rect x="1" y="1" width="38" height="31" fill="url(#pb)" transform="translate(616,567)"/>
<path d="M616 567h40v1h-40zM616 567h1v32h-1zM655 567h1v32h-1z" fill="#000"/>
<rect x="-5" y="-65" width="38" height="77" fill="url(#py)" transform="translate(661,587)"/>
<path d="M655 521h40v1h-40zM655 521h1v78h-1zM694 521h1v78h-1z" fill="#000"/>
<rect x="1" y="-1" width="40" height="94" fill="url(#pr)" transform="translate(694,506)"/>
<path d="M694 504h42v1h-42zM694 504h1v95h-1zM735 504h1v95h-1z" fill="#000"/>
<rect x="1" y="1" width="39" height="4" fill="url(#pg)" transform="translate(794,594)"/>
<path d="M794 594h42v1h-42zM794 594h1v5h-1zM834 594h2v5h-2z" fill="#000"/>
<rect x="2" y="1" width="38" height="60" fill="url(#pb)" transform="translate(834,538)"/>
<path d="M834 538h42v1h-42zM834 538h2v61h-2zM874 538h2v61h-2z" fill="#000"/>
<rect x="-4" y="-185" width="39" height="197" fill="url(#py)" transform="translate(880,587)"/>
<path d="M874 401h42v1h-42zM874 401h2v198h-2zM915 401h1v198h-1z" fill="#000"/>
<rect x="1" y="-5" width="39" height="266" fill="url(#pr)" transform="translate(915,338)"/>
<path d="M915 332h41v1h-41zM915 332h1v267h-1zM955 332h1v267h-1z" fill="#000"/>
<rect x="1" y="1" width="17" height="17" fill="url(#pg)" transform="translate(1033,272)"/>
<path d="M1033 272h19v19h-19zM1034 273v17h17v-17z" fill="#000" fill-rule="evenodd"/>
<rect x="1" y="1" width="17" height="16" fill="url(#pb2)" transform="translate(1033,324)"/>
<path d="M1033 324h19v18h-19zM1034 325v16h17v-16z" fill="#000" fill-rule="evenodd"/>
<rect x="-5" y="-8" width="17" height="16" fill="url(#py)" transform="translate(1039,384)"/>
<path d="M1033 375h19v18h-19zM1034 376v16h17v-16z" fill="#000" fill-rule="evenodd"/>
<rect x="1" y="0" width="17" height="17" fill="url(#pr)" transform="translate(1033,426)"/>
<path d="M1033 425h19v19h-19zM1034 426v17h17v-17z" fill="#000" fill-rule="evenodd"/>
</g>
<g class="tx">
<text transform="translate(85.30,611.34) scale(1.0,1.0375)" font-size="29.6" text-anchor="end">0</text>
<text transform="translate(85.30,546.36) scale(1.0,1.0375)" font-size="29.6" text-anchor="end">10</text>
<text transform="translate(85.30,481.37) scale(1.0,1.0375)" font-size="29.6" text-anchor="end">20</text>
<text transform="translate(85.30,416.39) scale(1.0,1.0375)" font-size="29.6" text-anchor="end">30</text>
<text transform="translate(85.30,351.41) scale(1.0,1.0375)" font-size="29.6" text-anchor="end">40</text>
<text transform="translate(85.30,286.43) scale(1.0,1.0375)" font-size="29.6" text-anchor="end">50</text>
<text transform="translate(85.30,221.44) scale(1.0,1.0375)" font-size="29.6" text-anchor="end">60</text>
<text transform="translate(85.30,156.46) scale(1.0,1.0375)" font-size="29.6" text-anchor="end">70</text>
<text transform="translate(85.30,91.48) scale(1.0,1.0375)" font-size="29.6" text-anchor="end">80</text>
<text transform="translate(85.30,26.49) scale(1.0,1.0375)" font-size="29.6" text-anchor="end">90</text>
<text transform="translate(207.25,648.53) scale(1.1029,1.0633)" font-size="29.6">C</text>
<text transform="translate(425.32,648.24) scale(1.0500,1.0329)" font-size="29.6">O</text>
<text transform="translate(646.39,647.90) scale(1.0149,1.0182)" font-size="29.6">P</text>
<text transform="translate(856.63,648.24) scale(0.9810,1.0354)" font-size="29.6">Ca</text>
<text transform="translate(489.81,685.75) scale(0.9766,0.99)" font-size="29.6">Elements</text>
<text transform="translate(24.8,399.50) rotate(-90) scale(0.9907,1)" font-size="29.6">Weight (%)</text>
<text x="1056.8" y="289.80" font-size="29.6">12</text>
<text x="1056.8" y="341.00" font-size="29.6">24</text>
<text x="1056.8" y="392.20" font-size="29.6">48</text>
<text x="1056.8" y="443.40" font-size="29.6">72</text>
</g>
</svg></body></html>
